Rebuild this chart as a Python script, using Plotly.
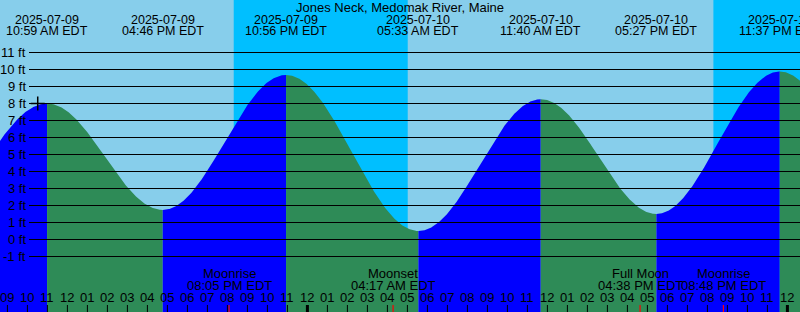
import numpy as np
import plotly.graph_objects as go
from datetime import datetime

# ---------------- data ----------------
title = "Jones Neck, Medomak River, Maine"
ref_day = datetime(2025, 7, 9)

# tide extremes (first and last are just outside the visible window)
tide_times = ["2025-07-09 04:45", "2025-07-09 10:59", "2025-07-09 16:46",
              "2025-07-09 22:56", "2025-07-10 05:33", "2025-07-10 11:40",
              "2025-07-10 17:27", "2025-07-10 23:37", "2025-07-11 06:15"]
tide_heights = [1.0, 8.0, 1.74, 9.68, 0.5, 8.25, 1.5, 9.88, 0.3]
tide_labels = ["10:59 AM EDT", "04:46 PM EDT", "10:56 PM EDT", "05:33 AM EDT",
               "11:40 AM EDT", "05:27 PM EDT", "11:37 PM EDT"]

# night intervals (sunset -> sunrise)
night_start = ["2025-07-09 20:19", "2025-07-10 20:18"]
night_end = ["2025-07-10 05:01", "2025-07-11 05:02"]

# moon events
moon_names = ["Moonrise", "Moonset", "Full Moon", "Moonrise"]
moon_times = ["2025-07-09 20:05", "2025-07-10 04:17", "2025-07-10 16:38", "2025-07-10 20:48"]
moon_labels = ["08:05 PM EDT", "04:17 AM EDT", "04:38 PM EDT", "08:48 PM EDT"]

# reference mark
mark_time = "2025-07-09 10:31"
mark_height = 8.0

levels = list(range(-1, 12))

# ---------------- styling / geometry ----------------
W, H = 800, 312
DAY = "#87CEEB"
NIGHT = "#00BFFF"
FALL = "#2E8B57"
RISE = "#0000FF"
FONT = "Liberation Sans"
X0 = 8.63          # hours at left edge
HOURS = 40.0       # visible span (20 px per hour)
PX_PER_FT = 17.0
Y_TOP = 11 + 52.5 / PX_PER_FT
Y_BOT = Y_TOP - H / PX_PER_FT


def hrs(s):
    return (datetime.strptime(s, "%Y-%m-%d %H:%M") - ref_day).total_seconds() / 3600.0


def ypx(p):  # pixel from top -> paper coordinate
    return 1 - p / H


tt = [hrs(s) for s in tide_times]

fig = go.Figure()

# tide curve segments (green falling, blue rising)
for i in range(len(tt) - 1):
    t1, t2 = tt[i], tt[i + 1]
    h1, h2 = tide_heights[i], tide_heights[i + 1]
    ts = np.linspace(t1, t2, 200)
    hs = (h1 + h2) / 2 + (h1 - h2) / 2 * np.cos(np.pi * (ts - t1) / (t2 - t1))
    xs = list(ts) + [t2, t1, t1]
    ys = list(hs) + [Y_BOT - 2, Y_BOT - 2, h1]
    fig.add_trace(go.Scatter(x=xs, y=ys, mode="lines", fill="toself",
                             fillcolor=FALL if h2 < h1 else RISE,
                             line=dict(width=0), hoverinfo="skip", showlegend=False))

# mark
fig.add_trace(go.Scatter(x=[hrs(mark_time)], y=[mark_height], mode="markers",
                         marker=dict(symbol="cross-thin", size=10,
                                     line=dict(width=1.5, color="black")),
                         hoverinfo="skip", showlegend=False))

shapes = []
# night backgrounds
for a, b in zip(night_start, night_end):
    shapes.append(dict(type="rect", xref="x", yref="paper", x0=hrs(a), x1=hrs(b),
                       y0=0, y1=1, fillcolor=NIGHT, line=dict(width=0), layer="below"))
# level lines
for lv in levels:
    shapes.append(dict(type="line", xref="paper", yref="y", x0=29 / W, x1=1,
                       y0=lv, y1=lv, line=dict(color="black", width=1.2), layer="above"))
# hour ticks
for hr in range(int(np.ceil(X0)), int(X0 + HOURS) + 1):
    midnight = hr % 24 == 0
    shapes.append(dict(type="line", xref="x", yref="paper", x0=hr, x1=hr,
                       y0=0, y1=ypx(305), line=dict(color="black", width=3 if midnight else 1),
                       layer="above"))
# moon ticks
for mt in moon_times:
    shapes.append(dict(type="line", xref="x", yref="paper", x0=hrs(mt), x1=hrs(mt),
                       y0=0, y1=ypx(305), line=dict(color="red", width=1.2), layer="above"))

ann = []
ann.append(dict(text=title, xref="paper", yref="paper", x=0.5, y=ypx(7.5),
                showarrow=False, xanchor="center", yanchor="middle",
                font=dict(family=FONT, size=13, color="black")))
for s, lab in zip(tide_times[1:-1], tide_labels):
    x = hrs(s)
    ann.append(dict(text=s[:10], xref="x", yref="paper", x=x, y=ypx(19.5),
                    showarrow=False, xanchor="center", yanchor="middle",
                    font=dict(family=FONT, size=12.5, color="black")))
    ann.append(dict(text=lab, xref="x", yref="paper", x=x, y=ypx(31.2),
                    showarrow=False, xanchor="center", yanchor="middle",
                    font=dict(family=FONT, size=12.5, color="black")))
for lv in levels:
    ann.append(dict(text=f"{lv} ft", xref="paper", yref="y", x=27.5 / W, y=lv,
                    showarrow=False, xanchor="right", yanchor="middle",
                    font=dict(family=FONT, size=13, color="black")))
for hr in range(int(np.ceil(X0)), int(X0 + HOURS) + 1):
    h12 = hr % 12
    h12 = 12 if h12 == 0 else h12
    ann.append(dict(text=f"{h12:02d}", xref="x", yref="paper", x=hr, y=ypx(297.5),
                    showarrow=False, xanchor="center", yanchor="middle",
                    font=dict(family=FONT, size=13, color="black")))
for name, mt, lab in zip(moon_names, moon_times, moon_labels):
    x = hrs(mt)
    ann.append(dict(text=name, xref="x", yref="paper", x=x, y=ypx(273.5),
                    showarrow=False, xanchor="center", yanchor="middle",
                    font=dict(family=FONT, size=13, color="black")))
    ann.append(dict(text=lab, xref="x", yref="paper", x=x, y=ypx(285.5),
                    showarrow=False, xanchor="center", yanchor="middle",
                    font=dict(family=FONT, size=13, color="black")))

fig.update_layout(
    width=W, height=H, margin=dict(l=0, r=0, t=0, b=0, pad=0),
    paper_bgcolor=DAY, plot_bgcolor=DAY,
    xaxis=dict(range=[X0, X0 + HOURS], visible=False, fixedrange=True),
    yaxis=dict(range=[Y_BOT, Y_TOP], visible=False, fixedrange=True),
    shapes=shapes, annotations=ann, showlegend=False,
)

fig.write_html("out.html", config={"displayModeBar": False})
